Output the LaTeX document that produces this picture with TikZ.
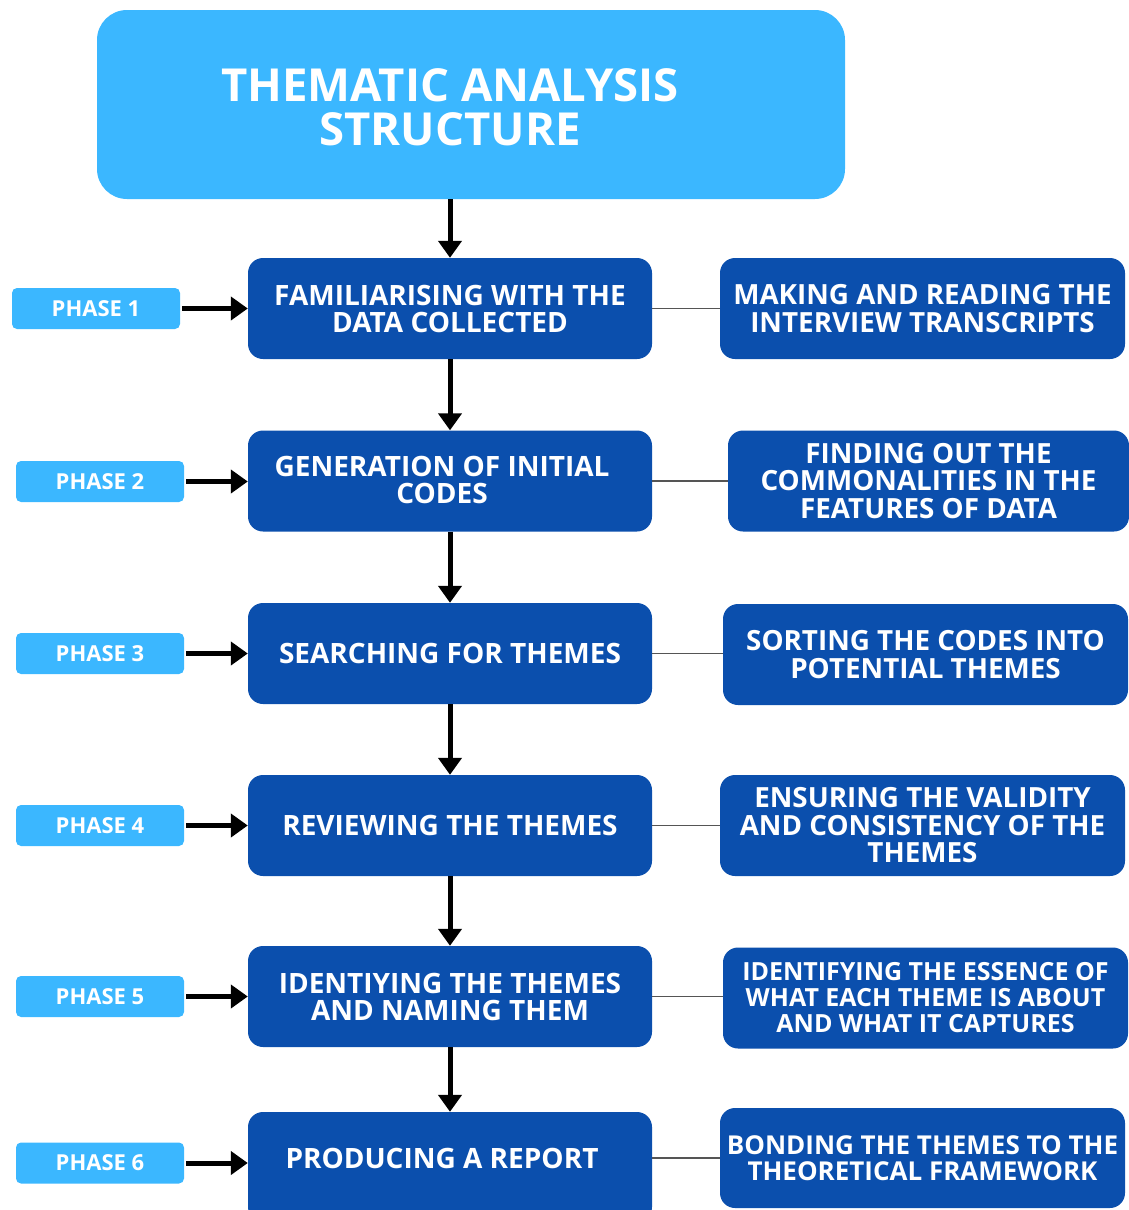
\documentclass[tikz,border=0pt]{standalone}
\usepackage{fontspec}
\setmainfont{Open Sans}
\usetikzlibrary{arrows.meta}
\definecolor{skyblue}{HTML}{3BB7FF}
\definecolor{deepblue}{HTML}{0B4FAD}
\definecolor{linkgray}{HTML}{555555}
\tikzset{
  titlebox/.style={fill=skyblue, rounded corners=30pt, minimum width=748pt, minimum height=189pt,
    inner sep=0pt},
  stagebox/.style={fill=deepblue, rounded corners=15pt, minimum width=404pt, minimum height=101pt,
    text=white, font=\bfseries\fontsize{28}{27}\selectfont, align=center, inner sep=0pt},
  notebox/.style={fill=deepblue, rounded corners=15pt, minimum width=405pt, minimum height=101pt,
    text=white, font=\bfseries\fontsize{27.8}{27.5}\selectfont, align=center, inner sep=0pt},
  phasebox/.style={fill=skyblue, rounded corners=5pt, minimum width=168pt, minimum height=41pt,
    text=white, font=\bfseries\fontsize{22}{22}\selectfont, inner sep=0pt},
  flow/.style={line width=5pt, -{Triangle[length=17pt, width=23pt]}},
  link/.style={draw=linkgray, line width=1.6pt},
}
\begin{document}
\begin{tikzpicture}[x=1pt, y=-1pt]
\useasboundingbox (0,0) rectangle (1129,1210);
\clip (0,0) rectangle (1129,1210);

% title
\node[titlebox] (title) at (471,104.5) {};
\node[text=white, font=\bfseries\fontsize{45.5}{44}\selectfont, align=center] (titletext) at (450,107) {THEMATIC ANALYSIS\\STRUCTURE};

% main stages
\node[stagebox] (s1) at (450,308.5) {FAMILIARISING WITH THE\\DATA COLLECTED};
\node[stagebox] (s2) at (450,481) {};
\node[text=white, font=\bfseries\fontsize{28}{27}\selectfont, align=center] (s2t) at (442,480) {GENERATION OF INITIAL\\CODES};
\node[stagebox] (s3) at (450,653.5) {SEARCHING FOR THEMES};
\node[stagebox] (s4) at (450,825.5) {REVIEWING THE THEMES};
\node[stagebox] (s5) at (450,996.5) {IDENTIYING THE THEMES\\AND NAMING THEM};
\node[stagebox, minimum height=110pt] (s6) at (450,1167) {};
\node[text=white, font=\bfseries\fontsize{28}{27}\selectfont] (s6t) at (442,1158) {PRODUCING A REPORT};

% phase labels
\node[phasebox] (p1) at (96,308.5) {PHASE 1};
\node[phasebox] (p2) at (100,481.5) {PHASE 2};
\node[phasebox] (p3) at (100,653.5) {PHASE 3};
\node[phasebox] (p4) at (100,825.5) {PHASE 4};
\node[phasebox] (p5) at (100,996.5) {PHASE 5};
\node[phasebox] (p6) at (100,1163) {PHASE 6};

% descriptions
\node[notebox] (d1) at (922.5,308.5) {MAKING AND READING THE\\INTERVIEW TRANSCRIPTS};
\node[notebox, minimum width=401pt] (d2) at (928.5,481) {FINDING OUT THE\\COMMONALITIES IN THE\\FEATURES OF DATA};
\node[notebox] (d3) at (925.5,654.5) {SORTING THE CODES INTO\\POTENTIAL THEMES};
\node[notebox] (d4) at (922.5,825.5) {ENSURING THE VALIDITY\\AND CONSISTENCY OF THE\\THEMES};
\node[notebox, font=\bfseries\fontsize{25}{26}\selectfont] (d5) at (925.5,998) {IDENTIFYING THE ESSENCE OF\\WHAT EACH THEME IS ABOUT\\AND WHAT IT CAPTURES};
\node[notebox, minimum height=100pt, font=\bfseries\fontsize{26}{26}\selectfont] (d6) at (922.5,1158) {BONDING THE THEMES TO THE\\THEORETICAL FRAMEWORK};

% downward flow
\draw[flow] (title.south -| s1.north) -- (s1.north);
\draw[flow] (s1) -- (s2);
\draw[flow] (s2) -- (s3);
\draw[flow] (s3) -- (s4);
\draw[flow] (s4) -- (s5);
\draw[flow] (s5.south) -- (s6.north);

% phase arrows
\foreach \i in {1,...,6}{
  \draw[flow] (p\i.east) ++(2,0) coordinate (a\i) -- (a\i -| s\i.west);
}

% links to descriptions
\foreach \i in {1,...,5}{
  \draw[link] (s\i.east) -- (s\i.east -| d\i.west);
}
\draw[link] (s6.east |- d6.west) -- (d6.west);
\end{tikzpicture}
\end{document}
